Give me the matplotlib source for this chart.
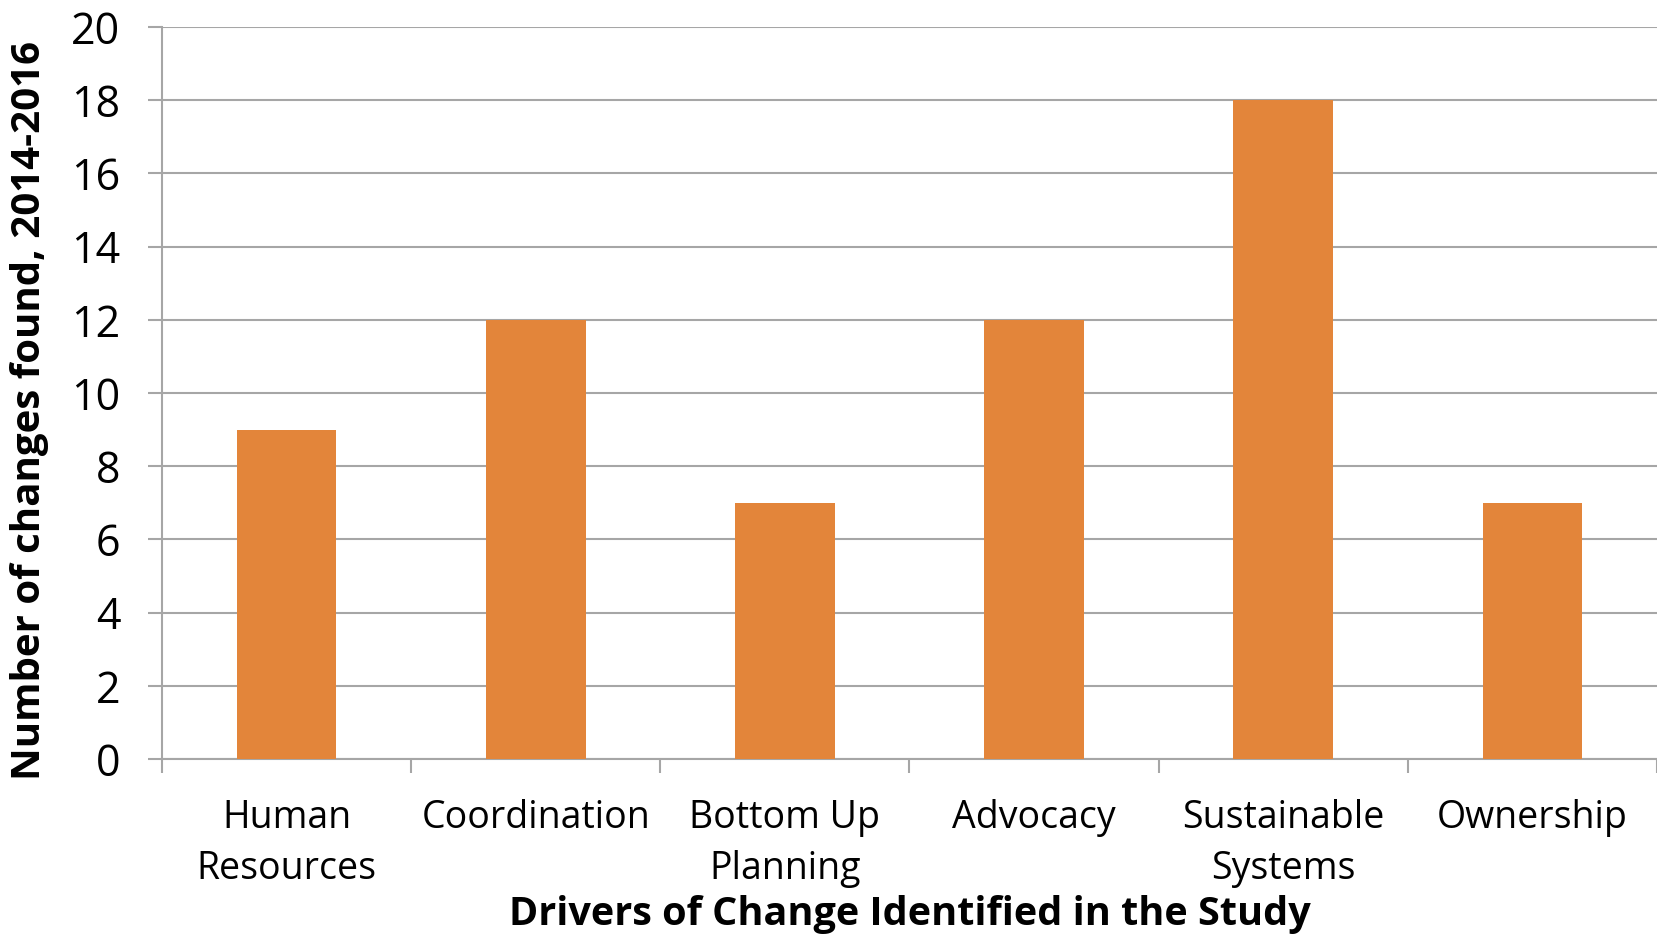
import matplotlib
matplotlib.use("Agg")
import matplotlib.pyplot as plt
import numpy as np

categories = ["Human\nResources", "Coordination", "Bottom Up\nPlanning",
              "Advocacy", "Sustainable\nSystems", "Ownership"]
values = [9, 12, 7, 12, 18, 7]
y_ticks = [0, 2, 4, 6, 8, 10, 12, 14, 16, 18, 20]

plt.rcParams['font.family'] = ['Open Sans', 'DejaVu Sans']

W, H = 1658, 935
fig = plt.figure(figsize=(W / 100, H / 100), dpi=100)
ax = fig.add_axes([162 / W, 1 - 759 / H, (1657 - 162) / W, (759 - 27) / H])

x = np.arange(len(categories))
ax.bar(x, values, width=0.4, color='#E3853A', zorder=3)

ax.set_xlim(-0.5, len(categories) - 0.5)
ax.set_ylim(0, 20)
ax.set_yticks(y_ticks)
ax.set_yticklabels([str(v) for v in y_ticks], fontsize=31)
ax.yaxis.grid(True, color='#A6A6A6', linewidth=1.5, zorder=0)

ax.set_xticks(x)
ax.set_xticklabels(categories, fontsize=27, linespacing=1.45)
ax.set_xticks(np.arange(len(categories) + 1) - 0.5, minor=True)
ax.tick_params(axis='x', which='major', length=0, pad=29)
ax.tick_params(axis='x', which='minor', length=10, width=1.5, color='#A6A6A6')
ax.tick_params(axis='y', length=10, width=1.5, color='#A6A6A6', pad=20)

for s in ['top', 'right']:
    ax.spines[s].set_visible(False)
for s in ['left', 'bottom']:
    ax.spines[s].set_color('#A6A6A6')
    ax.spines[s].set_linewidth(1.5)

fig.text(910 / W, 1 - 914 / H, "Drivers of Change Identified in the Study",
         fontsize=28.5, fontweight='bold', ha='center', va='center')
fig.text(30 / W, 1 - 410 / H, "Number of changes found, 2014-2016",
         fontsize=29, fontweight='bold', ha='center', va='center', rotation=90)

fig.savefig("out.png", dpi=100)
